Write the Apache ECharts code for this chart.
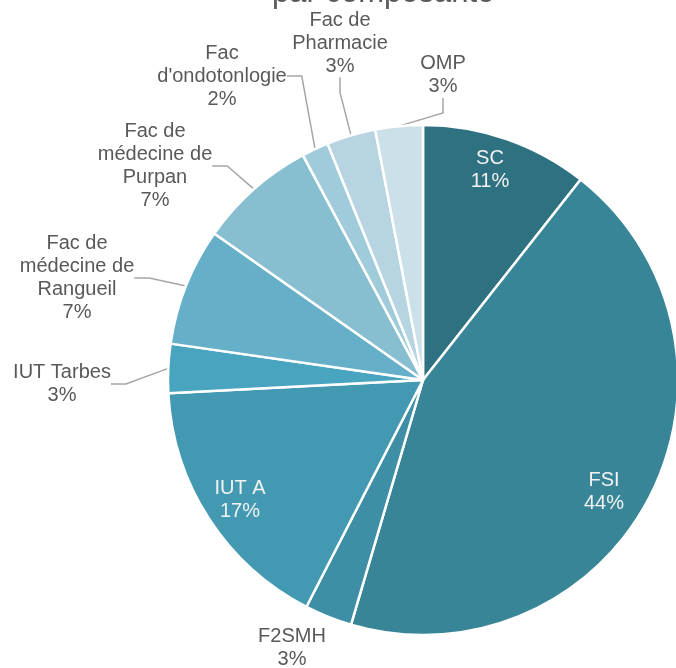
<!DOCTYPE html>
<html>
<head>
<meta charset="utf-8">
<script src="https://cdn.jsdelivr.net/npm/echarts@6/dist/echarts.min.js"></script>
<style>
html,body{margin:0;padding:0;background:#fff;}
#c{width:676px;height:668px;}
</style>
</head>
<body>
<div id="c"></div>
<script>
var categories = ["SC", "FSI", "F2SMH", "IUT A", "IUT Tarbes", "Fac de\nmédecine de\nRangueil", "Fac de\nmédecine de\nPurpan", "Fac\nd'ondotonlogie", "Fac de\nPharmacie", "OMP"];
var values = [10.6, 43.9, 3.0, 16.6, 3.1, 7.45, 7.45, 1.7, 3.1, 3.0];
var colors = ["#2E7181", "#388598", "#3E8FA5", "#4399B2", "#48A4BF", "#65B0C8", "#88BFD0", "#A0CBDA", "#B7D5E1", "#CCE0E9"];
var insideLabels = [true, true, false, true, false, false, false, false, false, false];
// label text block centres (layout only)
var labelPos = [[490,170],[604,492],[292,648],[240,500],[62,384],[77,278],[155,166],[222,76],[340,43],[443,75]];

var total = values.reduce(function(a,b){return a+b;},0);
var data = categories.map(function(c,i){
  return {
    name: c,
    value: values[i],
    itemStyle: {color: colors[i]},
    label: insideLabels[i] ? {color: '#F2F2F2'} : {color: '#595959'},
    labelLine: {show: !insideLabels[i] && i !== 2}
  };
});

var chart = echarts.init(document.getElementById('c'), null, {renderer: 'canvas'});
chart.setOption({
  animation: false,
  title: {
    text: 'par composante',
    left: 267,
    top: -27,
    textStyle: {fontFamily: 'Liberation Sans, Arial', fontSize: 31, fontWeight: 'normal', color: '#595959'}
  },
  series: [{
    type: 'pie',
    center: [423, 380],
    radius: 255,
    startAngle: 90,
    clockwise: true,
    avoidLabelOverlap: false,
    itemStyle: {borderColor: '#fff', borderWidth: 2.5},
    label: {
      show: true,
      position: 'outside',
      fontFamily: 'Liberation Sans, Arial',
      fontSize: 20,
      lineHeight: 23,
      align: 'center',
      formatter: function(p){ return p.name + '\n' + Math.round(p.value / total * 100) + '%'; }
    },
    labelLine: {show: true, lineStyle: {color: '#A6A6A6', width: 1.5}, length: 20, length2: 15},
    labelLayout: function(params){
      var p = labelPos[params.dataIndex];
      return {x: p[0], y: p[1], align: 'center', verticalAlign: 'middle'};
    },
    data: data
  }]
});
</script>
</body>
</html>
